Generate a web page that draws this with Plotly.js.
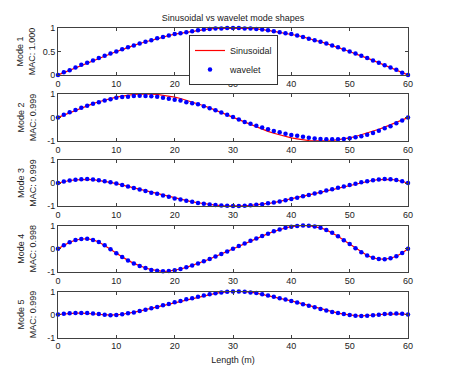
<!DOCTYPE html>
<html>
<head>
<meta charset="utf-8">
<script src="https://cdn.plot.ly/plotly-3.0.1.min.js"></script>
<style>html,body{margin:0;padding:0;background:#fff;}#chart{width:450px;height:380px;}</style>
</head>
<body>
<div id="chart"></div>
<script>
const lengthM = [0,1,2,3,4,5,6,7,8,9,10,11,12,13,14,15,16,17,18,19,20,21,22,23,24,25,26,27,28,29,30,31,32,33,34,35,36,37,38,39,40,41,42,43,44,45,46,47,48,49,50,51,52,53,54,55,56,57,58,59,60];

const sinusoidal1 = [0,0.05,0.10,0.16,0.21,0.26,0.31,0.36,0.41,0.45,0.50,0.54,0.59,0.63,0.67,0.71,0.74,0.77,0.81,0.84,0.87,0.89,0.91,0.93,0.95,0.97,0.98,0.99,0.99,1.00,1.00,1.00,0.99,0.99,0.98,0.97,0.95,0.93,0.91,0.89,0.87,0.84,0.81,0.77,0.74,0.71,0.67,0.63,0.59,0.54,0.50,0.45,0.41,0.36,0.31,0.26,0.21,0.16,0.10,0.05,0];
const wavelet1 = [0,0.06,0.10,0.16,0.22,0.26,0.31,0.36,0.41,0.46,0.50,0.55,0.59,0.63,0.67,0.71,0.74,0.78,0.81,0.84,0.87,0.89,0.91,0.93,0.95,0.97,0.98,0.99,0.99,1.00,1.00,1.00,0.99,0.99,0.98,0.97,0.95,0.93,0.91,0.89,0.87,0.84,0.81,0.77,0.74,0.71,0.67,0.63,0.59,0.54,0.50,0.46,0.41,0.36,0.31,0.26,0.21,0.16,0.11,0.05,0];

const sinusoidal2 = [0,0.10,0.21,0.31,0.41,0.50,0.59,0.67,0.74,0.81,0.87,0.91,0.95,0.98,0.99,1.00,0.99,0.98,0.95,0.91,0.87,0.81,0.74,0.67,0.59,0.50,0.41,0.31,0.21,0.10,0,-0.10,-0.21,-0.31,-0.41,-0.50,-0.59,-0.67,-0.74,-0.81,-0.87,-0.91,-0.95,-0.98,-0.99,-1.00,-0.99,-0.98,-0.95,-0.91,-0.87,-0.81,-0.74,-0.67,-0.59,-0.50,-0.41,-0.31,-0.21,-0.10,0];
const wavelet2 = [0,0.12,0.22,0.32,0.41,0.50,0.59,0.65,0.72,0.78,0.84,0.87,0.88,0.91,0.93,0.92,0.90,0.88,0.84,0.80,0.76,0.72,0.65,0.61,0.56,0.48,0.39,0.31,0.21,0.12,0.02,-0.09,-0.19,-0.27,-0.35,-0.43,-0.50,-0.57,-0.63,-0.69,-0.74,-0.78,-0.82,-0.86,-0.89,-0.92,-0.93,-0.93,-0.93,-0.91,-0.88,-0.84,-0.80,-0.73,-0.66,-0.56,-0.46,-0.37,-0.24,-0.13,0];

const sinusoidal3 = [0,0.06,0.11,0.14,0.16,0.16,0.15,0.12,0.08,0.03,-0.03,-0.09,-0.15,-0.21,-0.28,-0.35,-0.41,-0.47,-0.54,-0.60,-0.66,-0.72,-0.77,-0.82,-0.86,-0.90,-0.93,-0.96,-0.98,-0.99,-1.00,-1.00,-0.99,-0.97,-0.95,-0.92,-0.89,-0.85,-0.80,-0.75,-0.70,-0.64,-0.58,-0.52,-0.46,-0.40,-0.34,-0.27,-0.21,-0.15,-0.09,-0.03,0.03,0.08,0.12,0.15,0.16,0.16,0.13,0.08,0];
const wavelet3 = [0,0.07,0.11,0.14,0.16,0.17,0.15,0.12,0.08,0.03,-0.02,-0.09,-0.15,-0.22,-0.28,-0.35,-0.42,-0.47,-0.54,-0.60,-0.67,-0.72,-0.77,-0.82,-0.87,-0.90,-0.93,-0.96,-0.98,-0.99,-1.00,-1.00,-0.99,-0.97,-0.95,-0.92,-0.88,-0.85,-0.80,-0.75,-0.70,-0.64,-0.58,-0.52,-0.46,-0.40,-0.33,-0.27,-0.21,-0.15,-0.09,-0.03,0.03,0.08,0.12,0.15,0.17,0.16,0.13,0.08,0];

const sinusoidal4 = [0,0.15,0.28,0.37,0.42,0.43,0.38,0.29,0.15,-0.02,-0.19,-0.35,-0.50,-0.63,-0.74,-0.83,-0.90,-0.95,-0.97,-0.96,-0.92,-0.87,-0.80,-0.72,-0.63,-0.54,-0.44,-0.33,-0.23,-0.12,0.00,0.12,0.23,0.34,0.44,0.55,0.65,0.74,0.83,0.90,0.95,0.98,1.00,0.99,0.96,0.90,0.81,0.69,0.54,0.37,0.20,0.02,-0.15,-0.29,-0.39,-0.44,-0.45,-0.41,-0.32,-0.18,0];
const wavelet4 = [0,0.15,0.28,0.38,0.42,0.43,0.38,0.29,0.15,-0.02,-0.19,-0.35,-0.51,-0.63,-0.74,-0.83,-0.91,-0.95,-0.97,-0.96,-0.93,-0.87,-0.80,-0.72,-0.63,-0.54,-0.44,-0.33,-0.23,-0.12,0.00,0.12,0.23,0.34,0.44,0.55,0.65,0.75,0.83,0.90,0.95,0.98,1.00,0.99,0.96,0.90,0.81,0.69,0.54,0.37,0.20,0.02,-0.15,-0.29,-0.39,-0.44,-0.45,-0.41,-0.32,-0.18,0];

const sinusoidal5 = [0,0.03,0.05,0.06,0.06,0.05,0.03,0.01,-0.02,-0.03,-0.02,0.01,0.05,0.10,0.15,0.21,0.27,0.33,0.40,0.46,0.53,0.59,0.65,0.71,0.77,0.83,0.88,0.92,0.96,0.99,1.00,1.00,0.99,0.97,0.93,0.88,0.83,0.77,0.71,0.65,0.59,0.52,0.45,0.38,0.31,0.24,0.17,0.11,0.06,0.02,-0.02,-0.05,-0.06,-0.05,-0.03,-0.01,0.02,0.03,0.03,0.03,0];
const wavelet5 = [0,0.03,0.05,0.06,0.06,0.06,0.04,0.02,-0.01,-0.03,-0.02,0.01,0.05,0.09,0.15,0.21,0.27,0.33,0.40,0.46,0.53,0.59,0.66,0.71,0.77,0.83,0.88,0.92,0.96,0.99,1.00,1.00,0.99,0.96,0.93,0.88,0.83,0.77,0.71,0.65,0.59,0.52,0.45,0.38,0.31,0.24,0.17,0.11,0.06,0.02,-0.02,-0.05,-0.06,-0.05,-0.03,-0.01,0.02,0.03,0.04,0.03,0];

const modeLabels = ['Mode 1<br>MAC: 1.000','Mode 2<br>MAC: 0.999','Mode 3<br>MAC: 0.999','Mode 4<br>MAC: 0.998','Mode 5<br>MAC: 0.999'];
const xTicks = [0,10,20,30,40,50,60];

const sinSeries = [sinusoidal1, sinusoidal2, sinusoidal3, sinusoidal4, sinusoidal5];
const wavSeries = [wavelet1, wavelet2, wavelet3, wavelet4, wavelet5];

const FONT = 'Liberation Sans, Arial, Helvetica, sans-serif';
const AX = '#404040';
const H = 380, T = 28, B = 42;
const plotH = H - T - B;
const tops = [28, 94, 160, 225.5, 291.5];
const bottoms = [75, 141, 206, 272, 337.5];

const traces = [];
for (let i = 0; i < 5; i++) {
  const sfx = i === 0 ? '' : String(i + 1);
  traces.push({
    x: lengthM, y: sinSeries[i], type: 'scatter', mode: 'lines', name: 'Sinusoidal',
    line: {color: '#ff0000', width: 1.2}, xaxis: 'x' + sfx, yaxis: 'y' + sfx,
    showlegend: i === 0, cliponaxis: false
  });
  traces.push({
    x: lengthM, y: wavSeries[i], type: 'scatter', mode: 'markers', name: 'wavelet',
    marker: {color: '#0000ff', size: 4.5}, xaxis: 'x' + sfx, yaxis: 'y' + sfx,
    showlegend: i === 0, cliponaxis: false
  });
}

const layout = {
  width: 450, height: 380,
  margin: {l: 58, r: 42, t: T, b: B},
  paper_bgcolor: '#ffffff', plot_bgcolor: '#ffffff',
  font: {family: FONT, size: 9, color: '#222'},
  title: {text: 'Sinusoidal vs wavelet mode shapes', x: 0.5, xref: 'paper', y: 1 - 18/H, yref: 'container', yanchor: 'middle', font: {family: FONT, size: 9, color: '#222'}},
  showlegend: true,
  legend: {x: (189 - 58)/350, y: 1 - (35 - T)/plotH, xanchor: 'left', yanchor: 'top', bgcolor: '#ffffff', bordercolor: '#333', borderwidth: 1, font: {family: FONT, size: 9, color: '#222'}, itemwidth: 30, tracegroupgap: 0}
};

for (let i = 0; i < 5; i++) {
  const sfx = i === 0 ? '' : String(i + 1);
  const d0 = (H - B - bottoms[i]) / plotH;
  const d1 = (H - B - tops[i]) / plotH;
  layout['xaxis' + sfx] = {
    domain: [0, 1], anchor: 'y' + sfx, range: [0, 60], tickvals: xTicks,
    showline: true, mirror: 'ticks', linecolor: AX, linewidth: 1,
    ticks: 'inside', ticklen: 3, tickcolor: AX, showgrid: false, zeroline: false,
    tickfont: {family: FONT, size: 9, color: '#222'},
    title: i === 4 ? {text: 'Length (m)', font: {family: FONT, size: 9, color: '#222'}, standoff: 6} : {text: ''}
  };
  layout['yaxis' + sfx] = {
    domain: [d0, d1], anchor: 'x' + sfx,
    range: i === 0 ? [0, 1] : [-1, 1],
    tickvals: i === 0 ? [0, 0.5, 1] : [-1, 0, 1],
    ticktext: i === 0 ? ['0', '0.5', '1'] : ['-1', '0', '1'],
    showline: true, mirror: 'ticks', linecolor: AX, linewidth: 1,
    ticks: 'inside', ticklen: 3, tickcolor: AX, showgrid: false, zeroline: false,
    tickfont: {family: FONT, size: 9, color: '#222'},
    title: {text: modeLabels[i], font: {family: FONT, size: 9, color: '#222'}, standoff: i === 0 ? 5 : 9}
  };
}

Plotly.newPlot('chart', traces, layout, {displayModeBar: false, staticPlot: true});
</script>
</body>
</html>
